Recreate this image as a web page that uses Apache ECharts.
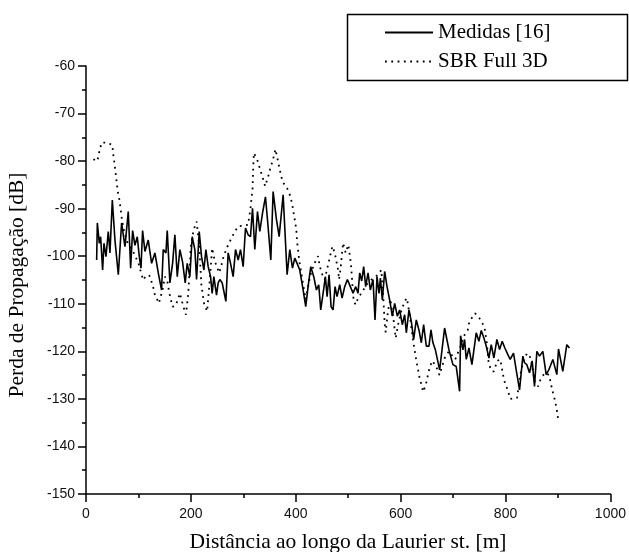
<!DOCTYPE html>
<html>
<head>
<meta charset="utf-8">
<script src="https://cdn.jsdelivr.net/npm/echarts@6/dist/echarts.min.js"></script>
<style>
html,body{margin:0;padding:0;background:#fff;}
#chart{width:629px;height:552px;}
</style>
</head>
<body>
<div id="chart"></div>
<script>
// ---- data ----
var seriesNames = ['Medidas [16]', 'SBR Full 3D'];
var xTitle = 'Distância ao longo da Laurier st. [m]';
var yTitle = 'Perda de Propagação [dB]';

var medidasX = [20.3,21.6,25.4,27.9,31.7,34.3,38.1,42.5,45.7,50.2,55.2,61.6,67.9,74.3,80.6,85.1,88.9,93.3,97.8,101.6,104.8,107.9,112.4,118.7,125.1,131.4,137.8,144.1,147.3,152.4,154.9,160,165.1,169.5,174,179,184.1,189.2,193,198,202.5,207.6,210.8,215.9,220.3,224.8,228.6,233,237.5,240.6,243.8,248.9,252,255.2,259.7,262.9,266.7,271.1,275.6,280.6,285.1,290.2,294.6,299.7,304.1,309.2,313.7,317.5,321.9,327,331.4,336.5,342.2,347.3,352.4,356.8,363.2,368.3,375.9,383.5,388.6,393.7,398.1,402.5,407.6,414,419,423.5,428.6,434.3,439.4,443.8,447.6,452.1,456.5,459.7,463.5,467.3,471.1,474.9,478.7,483.8,488.3,493.3,498.4,504.1,509.2,514.3,518.7,521.9,525.7,529.5,533.3,537.8,542.2,547.3,551.1,554.9,558.7,561.3,565.1,569.5,574,579,584.1,588.6,593.7,598.1,603.2,607.6,610.8,615.9,620.3,624.8,629.8,634.9,639.4,643.8,648.9,654,657.8,661.6,666,674.3,683.8,692.1,699.7,706,712.4,714.3,718.7,721.9,725.1,730.2,735.9,744.1,749.2,753.7,758.7,763.2,768.3,772.7,777.8,783.5,788.6,793.7,798.7,804.4,808.9,815.2,820.3,826.7,833,836.2,840.6,845.7,850.8,855.2,859.7,864.8,871.1,877.5,882.5,890.2,897.8,901,909.2,916.8,921.9];
var medidasY = [-100.8,-93.0,-97.3,-95.9,-102.9,-97.3,-100.1,-94.8,-99.3,-88.2,-96.6,-103.9,-93.0,-98.0,-90.6,-102.5,-94.6,-97.7,-95.9,-100.1,-102.5,-94.6,-99.0,-96.6,-101.5,-99.3,-103.5,-107.1,-98.6,-99.3,-94.6,-105.6,-101.5,-95.5,-104.3,-98.6,-101.2,-105.6,-101.5,-104.3,-95.9,-98.6,-104.9,-94.8,-100.1,-102.9,-98.6,-102.2,-104.3,-107.8,-104.3,-108.2,-105.6,-104.9,-105.6,-105.2,-109.5,-99.3,-101.5,-104.3,-98.6,-100.8,-98.6,-102.2,-94.1,-95.5,-95.9,-89.9,-98.6,-90.6,-94.8,-91.0,-87.5,-93.9,-100.8,-86.4,-92.3,-95.9,-87.1,-103.9,-98.6,-102.5,-100.4,-101.5,-102.9,-107.1,-110.6,-106.4,-102.2,-104.3,-107.1,-106.0,-111.3,-107.8,-104.3,-108.5,-103.9,-110.6,-111.3,-106.4,-108.5,-106.0,-108.8,-106.4,-104.9,-106.4,-107.8,-106.4,-107.8,-103.5,-105.2,-102.2,-106.4,-103.5,-107.1,-104.9,-113.4,-104.3,-107.8,-104.6,-109.2,-103.2,-106.4,-109.2,-112.6,-109.9,-112.6,-111.3,-114.4,-112.3,-116.1,-111.3,-113.7,-117.5,-113.4,-115.5,-118.2,-114.4,-118.9,-118.9,-115.5,-118.2,-119.6,-123.9,-115.1,-119.7,-122.8,-123.2,-128.4,-116.7,-119.7,-117.5,-121.7,-119.3,-122.8,-116.1,-117.9,-115.6,-117.2,-118.9,-121.4,-118.6,-121.4,-117.5,-119.6,-117.9,-119.3,-120.7,-121.7,-120.4,-123.9,-128.1,-121.0,-122.4,-122.8,-124.5,-122.0,-127.4,-120.0,-121.0,-120.0,-124.9,-123.9,-121.7,-124.9,-119.5,-124.2,-118.6,-119.3];

var sbrX = [14,21.6,25.4,29.8,39.4,50.2,52.1,56.5,58.4,60.3,63.5,66,67.9,72,80,90,100,109,115,121,127,131,139,142,146,150.5,155,159,165,170,174,179,185,190.5,195,200,204,208,211,216,220,225,231,236,240.6,245.7,254,258.4,263,271,280.6,290,300,309,313.7,315.6,317.5,318.7,320,326.3,331.4,336.5,341.6,347.3,351.7,356.8,361.3,368.3,374.6,383.5,389.8,393.7,396.2,399.4,401.3,402.5,405.1,406.3,414,419,425.4,429.8,436.2,442.5,445.7,450.8,455.2,461.6,466,469.8,474.3,477.5,480.6,482.5,485.7,488.3,490.2,495.2,500.3,502.9,505.4,508,510.5,514.3,518.7,525.1,534.6,547.3,556,563.2,567.6,569.5,571.4,575.9,580.3,586.7,590.5,594.9,601.3,607.6,612,618,624,630,636,643,648,654,660,667,674,684,692,704,714,722,728,731,742,753,760,764,768,774,778,784,790,797,804,809,815,822,828,834,841,848,856,862,868,876,883,889,894,897,900];
var sbrY = [-79.6,-80,-78,-76.1,-76.1,-76.6,-78.7,-82.4,-84.3,-86.2,-88,-90,-91.8,-94.5,-97.5,-99,-101.5,-105,-104,-104.1,-106,-107.9,-109.9,-110,-107,-104.3,-105.2,-107.8,-110.6,-110.5,-109.5,-107.8,-110.3,-112.3,-108,-97.6,-95.2,-93.5,-92.7,-98,-106,-109.9,-111.6,-105,-98.3,-101.1,-103.5,-101.8,-99.8,-97.6,-95.5,-93.7,-93.6,-93.4,-89.9,-87.8,-85.9,-82.1,-78.3,-79.6,-81.5,-83.3,-85.3,-83.3,-81.4,-79.6,-77.5,-81.2,-84.3,-85.7,-87.4,-89.4,-91.1,-93.2,-94.9,-96.9,-99.3,-100.7,-105.9,-109.1,-105.3,-103.2,-101.4,-100,-102.1,-103.9,-104.9,-101.8,-99.7,-97.9,-99.3,-101.1,-102.8,-104.9,-102.4,-99.3,-97.2,-99.3,-97.6,-99.7,-101.8,-106,-109.5,-110.2,-108.8,-107.8,-106,-104.6,-104,-102.9,-110,-114.2,-116,-111.4,-109,-113.6,-117.2,-114.5,-111.5,-109.5,-108.8,-113,-118,-122,-125.5,-128.5,-127,-124,-122,-123,-125,-121.4,-120,-121.7,-119,-116.5,-115.5,-113.7,-112,-113.4,-115.1,-118,-122.7,-124.2,-124.2,-122,-121.7,-126,-128.1,-130,-129.9,-129.8,-125,-122,-120.4,-121.4,-126.6,-127.4,-125.5,-124.5,-125,-128.1,-130.2,-131.8,-134];

var xMin = 0, xMax = 1000, xStep = 200;
var yMin = -150, yMax = -60, yStep = 10;

function pairs(xs, ys) { return xs.map(function (x, i) { return [x, ys[i]]; }); }

// ---- chart ----
var chart = echarts.init(document.getElementById('chart'), null, {renderer: 'canvas'});
var sans = '"Liberation Sans", Arial, sans-serif';
var serif = '"Liberation Serif", "Times New Roman", serif';

chart.setOption({
  animation: false,
  backgroundColor: '#fff',
  grid: {left: 86, right: 17, top: 66, bottom: 58, containLabel: false},
  xAxis: {
    type: 'value', min: xMin, max: xMax, interval: xStep,
    axisLine: {show: true, onZero: false, lineStyle: {color: '#000', width: 1.5}},
    axisTick: {show: true, length: 8, lineStyle: {color: '#000', width: 1.5}},
    minorTick: {show: true, splitNumber: 2, length: 4, lineStyle: {color: '#000', width: 1.5}},
    axisLabel: {color: '#111', fontFamily: sans, fontSize: 14, margin: 13,
      formatter: function (v) { return String(v); }},
    splitLine: {show: false}
  },
  yAxis: {
    type: 'value', min: yMin, max: yMax, interval: yStep,
    axisLine: {show: true, onZero: false, lineStyle: {color: '#000', width: 1.5}},
    axisTick: {show: true, length: 8, lineStyle: {color: '#000', width: 1.5}},
    minorTick: {show: true, splitNumber: 2, length: 4, lineStyle: {color: '#000', width: 1.5}},
    axisLabel: {color: '#111', fontFamily: sans, fontSize: 14, margin: 11,
      formatter: function (v) { return String(v); }},
    splitLine: {show: false}
  },
  legend: {
    orient: 'vertical', left: 384, top: 22, padding: 0,
    itemWidth: 48, itemHeight: 14, itemGap: 8, itemTextGap: 18,
    itemStyle: {opacity: 0},
    textStyle: {fontFamily: serif, fontSize: 21, lineHeight: 21, color: '#000'},
    data: seriesNames
  },
  graphic: [
    {type: 'rect', shape: {x: 347.5, y: 14.5, width: 280, height: 66}, style: {fill: 'rgba(0,0,0,0)', stroke: '#000', lineWidth: 1.5}, z: 100},
    {type: 'text', x: 348, y: 542, style: {text: xTitle, font: '21.5px ' + serif, fill: '#000', textAlign: 'center', textVerticalAlign: 'middle'}},
    {type: 'text', x: 17, y: 285, rotation: Math.PI / 2, style: {text: yTitle, font: '21.5px ' + serif, fill: '#000', textAlign: 'center', textVerticalAlign: 'middle'}}
  ],
  series: [
    {
      name: seriesNames[0], type: 'line', symbol: 'none', data: pairs(medidasX, medidasY),
      lineStyle: {color: '#000', width: 1.6}, itemStyle: {color: '#000'}
    },
    {
      name: seriesNames[1], type: 'line', symbol: 'none', data: pairs(sbrX, sbrY),
      lineStyle: {color: '#000', width: 1.8, type: [1.8, 4.5]}, itemStyle: {color: '#000'}
    }
  ]
});
</script>
</body>
</html>
